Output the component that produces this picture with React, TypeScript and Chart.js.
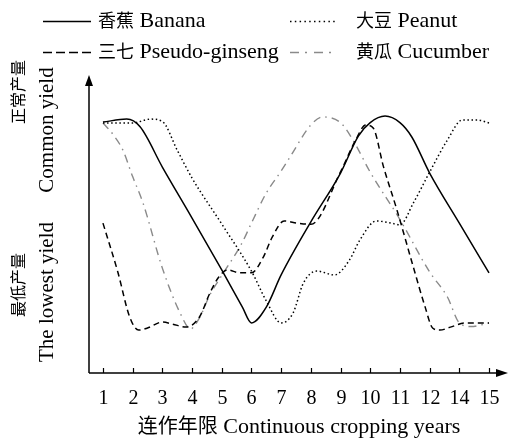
import React, { useEffect, useRef } from "react";
import { Chart, registerables } from "chart.js";

Chart.register(...registerables);

// x-axis tick labels (year 13 is not shown in the original)
const tickLabels = ["1", "2", "3", "4", "5", "6", "7", "8", "9", "10", "11", "12", "14", "15"];

// positions along the x axis (1 = first tick, 14 = last tick) and relative yield values
const bananaX = [1, 1.8, 2.25, 3, 4, 5, 5.7, 6, 6.5, 7, 8, 9, 9.6, 10, 10.5, 11, 11.4, 12, 13, 14];
const bananaY = [84.2, 85.2, 82.6, 69.1, 52.0, 34.6, 22.0, 16.8, 22.1, 32.9, 50.7, 67.1, 79.5, 84.0, 86.2, 84.0, 79.2, 67.1, 50.3, 33.6];

const peanutX = [1, 2, 2.6, 3, 3.5, 4, 5, 6, 6.5, 7, 7.4, 7.75, 8.2, 8.8, 9.3, 9.65, 10.2, 10.7, 11, 11.45, 12, 12.6, 13.1, 13.6, 14];
const peanutY = [83.9, 83.9, 85.2, 84.4, 74.8, 65.4, 50.0, 34.2, 24.2, 16.8, 20.1, 30.2, 34.2, 32.9, 37.9, 44.6, 51.0, 50.3, 49.7, 57.0, 67.4, 78.2, 84.9, 84.9, 83.9];

const ginsengX = [1, 1.5, 1.9, 2.2, 2.5, 3, 3.35, 3.8, 4.25, 4.6, 4.9, 5.2, 5.6, 6, 6.4, 6.7, 7.1, 7.55, 8, 9, 9.5, 9.85, 10.1, 10.45, 10.9, 11.45, 11.85, 12.1, 12.35, 12.7, 13.2, 14];
const ginsengY = [50.3, 33.9, 18.8, 14.4, 15.1, 17.1, 16.4, 15.4, 18.8, 26.8, 32.2, 34.6, 33.6, 33.6, 38.9, 45.6, 51.0, 50.3, 49.9, 67.5, 78.0, 83.2, 82.2, 69.1, 54.7, 35.6, 22.1, 15.1, 14.4, 15.4, 16.8, 16.8];

const cucumberX = [1, 1.35, 1.67, 2, 2.35, 3, 3.6, 3.95, 4.25, 4.6, 5, 5.68, 6, 6.5, 7, 7.3, 8, 8.4, 9, 9.4, 10, 11, 12, 12.6, 13, 13.4, 14];
const cucumberY = [83.9, 79.9, 74.8, 65.9, 57.0, 35.2, 20.1, 14.8, 18.5, 26.2, 32.7, 43.6, 50.3, 60.4, 67.8, 72.5, 83.2, 85.9, 84.0, 78.5, 67.4, 51.5, 33.9, 25.5, 16.8, 15.6, 16.8];

const seriesNames = ["香蕉 Banana", "大豆 Peanut", "三七 Pseudo-ginseng", "黄瓜 Cucumber"];
const xTitle = "连作年限 Continuous cropping years";
const yTitleTop = ["正常产量", "Common yield"];
const yTitleBottom = ["最低产量", "The lowest yield"];

const LATIN = "'Liberation Serif', 'Times New Roman', serif";
const CJK = "'Noto Sans CJK SC', sans-serif";

const zip = (xs: number[], ys: number[]) => xs.map((x, i) => ({ x, y: ys[i] }));

const isCJK = (ch: string) => /[\u3000-\u9fff]/.test(ch);

// draws a string, CJK characters with one font and everything else with another
function drawMixed(
  ctx: CanvasRenderingContext2D,
  text: string,
  x: number,
  y: number,
  latinSize: number,
  cjkSize: number,
  align: "left" | "center" = "left"
) {
  const runs: { t: string; cjk: boolean }[] = [];
  for (const ch of text) {
    const c = isCJK(ch);
    if (runs.length && runs[runs.length - 1].cjk === c) runs[runs.length - 1].t += ch;
    else runs.push({ t: ch, cjk: c });
  }
  const fontOf = (c: boolean) => (c ? `${cjkSize}px ${CJK}` : `${latinSize}px ${LATIN}`);
  let total = 0;
  const widths = runs.map((r) => {
    ctx.font = fontOf(r.cjk);
    const w = ctx.measureText(r.t).width;
    total += w;
    return w;
  });
  let cx = align === "center" ? x - total / 2 : x;
  ctx.textAlign = "left";
  ctx.textBaseline = "alphabetic";
  runs.forEach((r, i) => {
    ctx.font = fontOf(r.cjk);
    ctx.fillText(r.t, cx, y);
    cx += widths[i];
  });
}

const styles = [
  { color: "#000000", dash: [] as number[], width: 1.5, legendDash: [] as number[] },
  { color: "#000000", dash: [1.5, 2.6], width: 1.5, legendDash: [1.5, 3.3] },
  { color: "#000000", dash: [6, 4], width: 1.5, legendDash: [9, 4] },
  { color: "#8a8a8a", dash: [8, 5, 1.5, 5], width: 1.4, legendDash: [9, 6, 2, 7] },
];

const decorPlugin = {
  id: "decor",
  afterDraw(chart: any) {
    const ctx: CanvasRenderingContext2D = chart.ctx;
    const xs = chart.scales.x;
    const area = chart.chartArea;
    const x0 = area.left;
    const y0 = area.bottom;
    ctx.save();
    ctx.strokeStyle = "#000";
    ctx.fillStyle = "#000";
    ctx.lineWidth = 1.5;
    ctx.setLineDash([]);
    // y axis with arrow
    ctx.beginPath();
    ctx.moveTo(x0, y0);
    ctx.lineTo(x0, area.top + 6);
    ctx.stroke();
    ctx.beginPath();
    ctx.moveTo(x0, area.top);
    ctx.lineTo(x0 - 4, area.top + 11);
    ctx.lineTo(x0 + 4, area.top + 11);
    ctx.closePath();
    ctx.fill();
    // x axis with arrow
    const xEnd = 508;
    ctx.beginPath();
    ctx.moveTo(x0, y0);
    ctx.lineTo(xEnd - 6, y0);
    ctx.stroke();
    ctx.beginPath();
    ctx.moveTo(xEnd, y0);
    ctx.lineTo(xEnd - 12, y0 - 4);
    ctx.lineTo(xEnd - 12, y0 + 4);
    ctx.closePath();
    ctx.fill();
    // ticks and tick labels
    ctx.lineWidth = 1.2;
    tickLabels.forEach((lab, i) => {
      const px = Math.round(xs.getPixelForValue(i + 1)) + 0.5;
      ctx.beginPath();
      ctx.moveTo(px, y0);
      ctx.lineTo(px, y0 - 5);
      ctx.stroke();
      ctx.font = `20px ${LATIN}`;
      ctx.textAlign = "center";
      ctx.textBaseline = "alphabetic";
      ctx.fillText(lab, px, 404);
    });
    // x title
    drawMixed(ctx, xTitle, 299, 433, 22, 20, "center");

    // y titles (rotated)
    const drawRot = (text: string, cx: number, cy: number, font: string) => {
      ctx.save();
      ctx.translate(cx, cy);
      ctx.rotate(-Math.PI / 2);
      ctx.font = font;
      ctx.textAlign = "center";
      ctx.textBaseline = "middle";
      ctx.fillText(text, 0, 0);
      ctx.restore();
    };
    drawRot(yTitleTop[0], 18, 92, `16px ${CJK}`);
    drawRot(yTitleTop[1], 47, 130, `21px ${LATIN}`);
    drawRot(yTitleBottom[0], 18, 285, `16px ${CJK}`);
    drawRot(yTitleBottom[1], 47, 292, `21px ${LATIN}`);

    // legend
    const legendPos = [
      { lx: 43, ly: 21, tx: 98 },
      { lx: 290, ly: 21, tx: 356 },
      { lx: 43, ly: 52, tx: 98 },
      { lx: 290, ly: 52, tx: 356 },
    ];
    seriesNames.forEach((name, i) => {
      const p = legendPos[i];
      const st = styles[i];
      ctx.strokeStyle = st.color;
      ctx.lineWidth = st.width;
      ctx.lineCap = "butt";
      ctx.setLineDash(st.legendDash);
      ctx.beginPath();
      ctx.moveTo(p.lx, p.ly + 0.5);
      ctx.lineTo(p.lx + 48, p.ly + 0.5);
      ctx.stroke();
      ctx.setLineDash([]);
      ctx.fillStyle = "#000";
      drawMixed(ctx, name, p.tx, p.ly + 6, 22, 18);
    });
    ctx.restore();
  },
};

export default function App() {
  const canvasRef = useRef<HTMLCanvasElement | null>(null);

  useEffect(() => {
    document.body.style.margin = "0";
    const canvas = canvasRef.current;
    if (!canvas) return;
    const datasets = [
      zip(bananaX, bananaY),
      zip(peanutX, peanutY),
      zip(ginsengX, ginsengY),
      zip(cucumberX, cucumberY),
    ].map((data, i) => ({
      label: seriesNames[i],
      data,
      borderColor: styles[i].color,
      borderWidth: styles[i].width,
      borderDash: styles[i].dash,
      borderCapStyle: "butt" as const,
      pointRadius: 0,
      fill: false,
      cubicInterpolationMode: "monotone" as const,
    }));
    const chart = new Chart(canvas, {
      type: "line",
      data: { datasets },
      options: {
        animation: false,
        responsive: false,
        devicePixelRatio: 1,
        layout: { padding: { left: 89, top: 75, right: 9, bottom: 68 } },
        plugins: { legend: { display: false }, tooltip: { enabled: false } },
        scales: {
          x: { type: "linear", min: 0.53, max: 14.37, display: false },
          y: { type: "linear", min: 0, max: 100, display: false },
        },
      },
      plugins: [decorPlugin],
    });
    return () => chart.destroy();
  }, []);

  return (
    <canvas
      ref={canvasRef}
      width={509}
      height={441}
      style={{ display: "block", width: 509, height: 441, background: "#fff" }}
    />
  );
}
